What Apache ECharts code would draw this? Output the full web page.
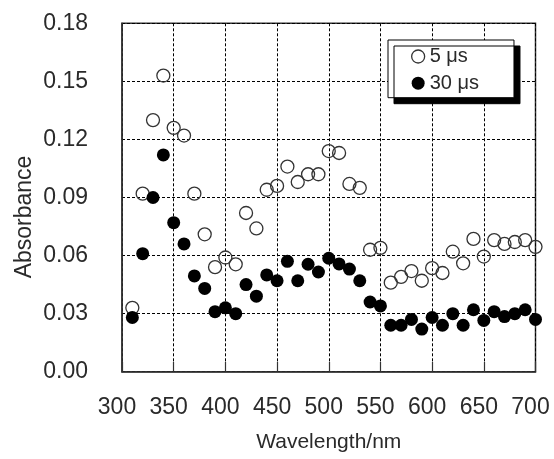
<!DOCTYPE html>
<html>
<head>
<meta charset="utf-8">
<script src="https://cdn.jsdelivr.net/npm/echarts@6/dist/echarts.min.js"></script>
<style>html,body{margin:0;padding:0;background:#fff;}#c{width:554px;height:459px;}</style>
</head>
<body>
<div id="c"></div>
<script>
var wavelengths = [310,320,330,340,350,360,370,380,390,400,410,420,430,440,450,460,470,480,490,500,510,520,530,540,550,560,570,580,590,600,610,620,630,640,650,660,670,680,690,700];
var abs5us = [0.033,0.092,0.130,0.153,0.126,0.122,0.092,0.071,0.054,0.059,0.0555,0.082,0.074,0.094,0.096,0.106,0.098,0.102,0.102,0.114,0.113,0.097,0.095,0.063,0.064,0.046,0.049,0.052,0.047,0.0535,0.051,0.062,0.056,0.0686,0.0595,0.068,0.066,0.067,0.068,0.0645];
var abs30us = [0.028,0.061,0.090,0.112,0.077,0.066,0.0495,0.043,0.031,0.033,0.030,0.045,0.039,0.050,0.047,0.057,0.047,0.0555,0.0515,0.0586,0.0557,0.053,0.047,0.036,0.034,0.024,0.024,0.027,0.022,0.028,0.024,0.030,0.024,0.032,0.0265,0.031,0.0285,0.030,0.032,0.027];
var seriesNames = ['5 μs', '30 μs'];
var xTitle = 'Wavelength/nm';
var yTitle = 'Absorbance';

function pairs(xs, ys){ return xs.map(function(x,i){ return [x, ys[i]]; }); }

var FONT = '"Liberation Sans", Arial, sans-serif';
var TXT = '#2a2a2a';
var chart = echarts.init(document.getElementById('c'), null, {renderer:'canvas'});
chart.setOption({
  animation: false,
  backgroundColor: '#fff',
  grid: { left: 122, right: 18.5, top: 23.3, bottom: 87.3, show: true, borderColor: '#333', borderWidth: 1.5, backgroundColor: 'transparent' },
  legend: {
    orient: 'vertical', left: 388, top: 40,
    padding: [6.5, 35, 4.5, 23],
    itemGap: 6.7, itemWidth: 13, itemHeight: 13,
    backgroundColor: '#fff', borderColor: '#000', borderWidth: 1,
    shadowColor: '#000', shadowBlur: 0, shadowOffsetX: 6, shadowOffsetY: 6,
    textStyle: { fontFamily: FONT, fontSize: 20, color: TXT },
    data: [
      { name: seriesNames[0], icon: 'circle', itemStyle: { color: 'transparent', borderColor: '#333', borderWidth: 1.3 } },
      { name: seriesNames[1], icon: 'circle', itemStyle: { color: '#000', opacity: 1 } }
    ]
  },
  xAxis: {
    type: 'value', min: 300, max: 700, interval: 50,
    name: xTitle, nameLocation: 'middle', nameGap: 60,
    nameTextStyle: { fontFamily: FONT, fontSize: 21, color: TXT },
    axisLine: { show: true, onZero: false, lineStyle: { color: '#333', width: 1.5 } },
    axisTick: { show: true, inside: true, length: 10, lineStyle: { color: '#333', width: 1.2 } },
    axisLabel: { fontFamily: FONT, fontSize: 23, color: TXT, margin: 24, padding: [0, 10, 0, 0] },
    splitLine: { show: true, lineStyle: { color: '#000', width: 1, type: [3, 2] } }
  },
  yAxis: {
    type: 'value', min: 0, max: 0.18, interval: 0.03,
    axisLine: { show: true, onZero: false, lineStyle: { color: '#333', width: 1.5 } },
    axisTick: { show: false },
    axisLabel: { fontFamily: FONT, fontSize: 23, color: TXT, margin: 34, formatter: function(v){ return v.toFixed(2); } },
    splitLine: { show: true, lineStyle: { color: '#000', width: 1, type: [3, 2] } }
  },
  graphic: [
    { type: 'text', x: 25, y: 217, rotation: Math.PI/2,
      style: { text: yTitle, fontFamily: FONT, fontSize: 23, fill: TXT, align: 'center', verticalAlign: 'middle' } }
  ],
  series: [
    { name: seriesNames[0], type: 'scatter', data: pairs(wavelengths, abs5us), symbol: 'circle', symbolSize: 13, z: 3,
      itemStyle: { color: 'transparent', borderColor: '#333', borderWidth: 1.3, opacity: 1 } },
    { name: seriesNames[1], type: 'scatter', data: pairs(wavelengths, abs30us), symbol: 'circle', symbolSize: 13, z: 4,
      itemStyle: { color: '#000', opacity: 1 } }
  ]
});
</script>
</body>
</html>
